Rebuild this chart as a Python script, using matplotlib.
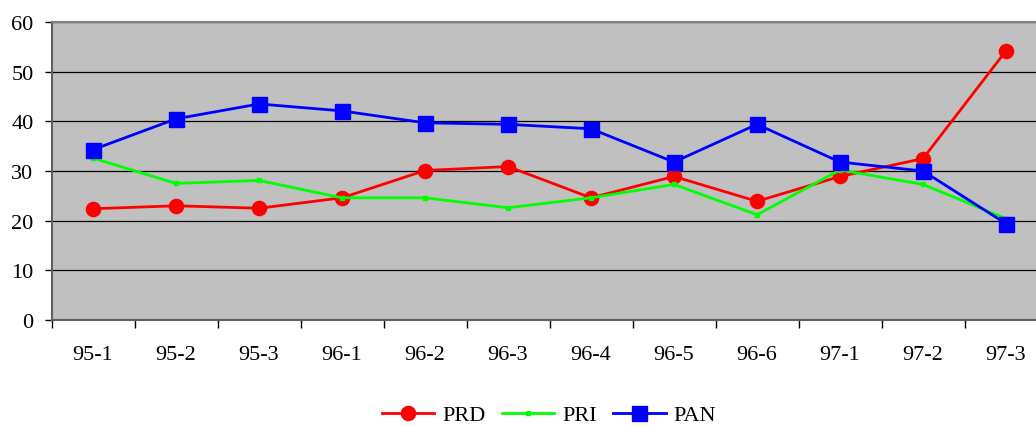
import matplotlib
matplotlib.use("Agg")
import matplotlib.pyplot as plt
import numpy as np

categories = ["95-1", "95-2", "95-3", "96-1", "96-2", "96-3", "96-4", "96-5", "96-6", "97-1", "97-2", "97-3"]
prd = [22.4, 23.0, 22.5, 24.6, 30.1, 30.9, 24.6, 28.9, 23.9, 28.9, 32.5, 54.2]
pri = [32.6, 27.5, 28.1, 24.6, 24.6, 22.6, 24.6, 27.3, 21.2, 30.2, 27.3, 20.4]
pan = [34.3, 40.5, 43.5, 42.1, 39.7, 39.4, 38.5, 31.8, 39.4, 31.8, 30.0, 19.4]

plt.rcParams['font.family'] = ['Liberation Serif', 'DejaVu Serif']

fig = plt.figure(figsize=(10.36, 4.27), dpi=100)
ax = fig.add_axes([51.5/1036, 106/427, 996/1036, 298/427])
ax.set_facecolor("#C0C0C0")

x = np.arange(len(categories))
ax.plot(x, prd, color="#FF0000", lw=2.0, marker="o", ms=10.2, label="PRD", zorder=3)
ax.plot(x, pri, color="#00FF00", lw=2.0, marker="s", ms=3.5, label="PRI", zorder=4)
ax.plot(x, pan, color="#0000FF", lw=2.0, marker="s", ms=10.8, label="PAN", zorder=5)

ax.set_xlim(-0.5, len(categories) - 0.5)
ax.set_ylim(0, 60)
ax.set_yticks(range(0, 61, 10))
ax.yaxis.grid(True, color="black", lw=0.9)
ax.set_axisbelow(True)

ax.set_xticks(np.arange(-0.5, len(categories), 1.0))
ax.set_xticklabels([])
ax.set_xticks(x, minor=True)
ax.set_xticklabels(categories, minor=True)
ax.tick_params(axis="x", which="major", length=6, width=1, color="black", direction="out")
ax.tick_params(axis="x", which="minor", length=0, pad=18, labelsize=16)
ax.tick_params(axis="y", length=5, width=1, color="black", direction="out", pad=8, labelsize=16)

ax.spines["top"].set_color("#808080")
ax.spines["top"].set_linewidth(1.5)
ax.spines["left"].set_color("#606060")
ax.spines["left"].set_linewidth(1.5)
ax.spines["bottom"].set_color("#606060")
ax.spines["bottom"].set_linewidth(1.5)
ax.spines["right"].set_visible(False)

fig.legend(loc="center", bbox_to_anchor=(549/1036, 1 - 416/427), ncol=3, frameon=False,
           fontsize=16, handlelength=2.35, handletextpad=0.35, columnspacing=0.75)

fig.savefig("out.png", dpi=100)
